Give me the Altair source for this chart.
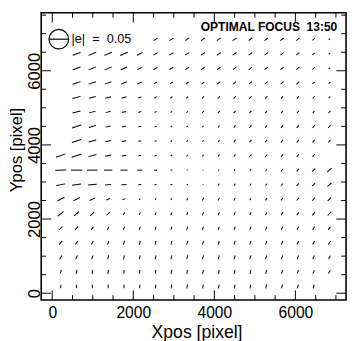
import altair as alt
import pandas as pd

# grid positions of the whisker centres (pixel coordinates on the detector)
COL_X = [210, 600, 990, 1380, 1770, 2160, 2550, 2940, 3330, 3720,
         4110, 4500, 4890, 5280, 5670, 6060, 6450, 6840]
ROW_Y = [6848, 6456, 6064, 5672, 5280, 4888, 4496, 4104, 3712, 3320,
         2928, 2536, 2144, 1752, 1360, 968, 576, 184]  # top row first

N = None
# ellipticity |e| in units of 1e-3, one list per row (top to bottom), one entry per column
E_ROWS = [
    [N, N, N, N, N, N, 12, 12, 12, 12, 12, 12, 11, 11, 11, 10, 8, 5],
    [N, 21, 21, 21, 21, 16, 12.5, 12, 12, 12, 12, 12, 11, 11, 10, 10, 8, 5],
    [N, 21, 20, 20, 17.5, 14, 11, 11, 11, 11, 11, 11, 11, 10, 10, 10, 8, 5],
    [N, 21, 20, 17.5, 16, 13, 10, 9, 9, 9, 10, 10, 10, 10, 10, 10, 8, 6],
    [N, 21, 17.5, 15, 13, 9, 7, 7, 7, 7.5, 8, 8, 8, 8, 8, 8, 7.5, 6],
    [N, 21, 17.5, 13, 11, 7.5, 5.5, 5.5, 5.5, 6, 7.5, 7.5, 7.5, 7.5, 7.5, 7.5, 7.5, 7.5],
    [N, 24, 18, 13, 11, 7.5, 5, 5, 5, 5, 6, 7.5, 7.5, 7.5, 9, 9, 9, 9],
    [N, 25, 20, 15, 11, 7.5, 5, 5, 5, 5, 6, 7.5, 7.5, 7.5, 9, 9, 9, 9],
    [26, 26, 21, 15.5, 11.5, 6.5, 5, 5, 5, 5, 6, 7.5, 7.5, 7.5, 9, 9, 9, N],
    [28, 29, 27, 21, 18, 12.5, 7.5, 5, 3, 2, 3, 5, 6, 6, 7.5, 9, 11, 15],
    [23, 23, 22, 16, 12.5, 7.5, 5, 5, 4, 2.5, 5, 6, 6, 6, 7.5, 9, 11, 14],
    [21, 19, 16, 10, 7, 4.5, 5, 5, 6, 7.5, 7.5, 7.5, 6, 7.5, 7.5, 9, 11, 12.5],
    [19, 17, 14, 11, 7.5, 6, 7.5, 7.5, 7.5, 9, 9, 9, 7.5, 7.5, 9, 9, 11, 12.5],
    [12.5, 12.5, 10, 9, 9, 9, 9, 9, 9, 9, 9, 9, 9, 9, 9, 9, 10, 10],
    [12.5, 11, 10, 10, 10, 10, 10, 10, 10, 10, 10, 10, 10, 10, 10, 10, 10, 11],
    [11, 11, 10, 10, 10, 10, 10, 10, 10, 10, 10, 10, 10, 10, 10, 10, 10, 10],
    [10, 10, 10, 10, 10, 10, 10, 10, 10, 10, 10, 10, 10, 10, 10, 10, 10, 10],
    [9, 9, 9, 9, 9, 9, 10, 10, 10, 10, 10, 10, 10, 10, 10, 10, 10, N],
]
# position angle of the whisker in degrees, counter-clockwise from +x
PA_ROWS = [
    [N, N, N, N, N, N, 33, 33, 35, 35, 35, 35, 38, 38, 38, 40, 40, 40],
    [N, 20, 22, 22, 24, 26, 30, 32, 33, 35, 35, 35, 38, 38, 40, 40, 40, 40],
    [N, 20, 22, 22, 24, 26, 30, 32, 35, 35, 38, 38, 40, 40, 40, 42, 42, 42],
    [N, 18, 18, 20, 22, 25, 30, 35, 38, 40, 42, 42, 42, 42, 42, 45, 45, 45],
    [N, 15, 15, 15, 18, 20, 35, 40, 42, 45, 45, 45, 45, 45, 45, 45, 45, 45],
    [N, 15, 15, 15, 15, 18, 30, 40, 45, 45, 50, 50, 50, 50, 50, 50, 50, 50],
    [N, 18, 16, 14, 12, 10, 20, 40, 45, 50, 55, 55, 50, 50, 50, 50, 50, 50],
    [N, 18, 15, 12, 10, 8, 15, 40, 45, 50, 55, 55, 50, 50, 50, 50, 50, 50],
    [20, 18, 15, 12, 10, 8, 20, 40, 45, 50, 55, 55, 50, 50, 50, 50, 50, N],
    [2, 0, 0, 0, 0, 0, 0, 0, 10, 40, 60, 70, 55, 50, 50, 48, 45, 42],
    [10, 8, 5, 5, 3, 3, 5, 10, 30, 50, 60, 60, 55, 50, 50, 48, 45, 42],
    [28, 28, 25, 25, 25, 30, 65, 65, 62, 65, 65, 68, 55, 55, 52, 50, 48, 45],
    [38, 40, 42, 45, 50, 55, 68, 70, 70, 70, 70, 70, 60, 58, 55, 52, 50, 48],
    [45, 50, 55, 65, 70, 75, 75, 75, 75, 75, 75, 72, 70, 70, 68, 65, 60, 55],
    [50, 55, 60, 70, 75, 80, 78, 78, 76, 75, 75, 73, 72, 72, 70, 65, 60, 55],
    [60, 65, 70, 75, 80, 80, 80, 78, 76, 75, 75, 73, 72, 72, 70, 68, 65, 60],
    [70, 75, 80, 80, 85, 85, 82, 80, 80, 78, 78, 76, 75, 75, 72, 70, 65, 60],
    [88, 90, 90, 90, 90, 88, 85, 85, 82, 82, 80, 80, 80, 78, 78, 75, 75, N],
]

LEGEND_E = 0.05
LEGEND_LABEL = "|e|\u00a0\u00a0=\u00a0\u00a00.05"
TITLE_TEXT = "OPTIMAL FOCUS\u00a0\u00a013:50"

X_MAJOR = [0, 2000, 4000, 6000]
X_MINOR = [500, 1000, 1500, 2500, 3000, 3500, 4500, 5000, 5500, 6500, 7000]
Y_MAJOR = [0, 2000, 4000, 6000]
Y_MINOR = [500, 1000, 1500, 2500, 3000, 3500, 4500, 5000, 5500, 6500, 7000, 7500]

W, H = 312, 294
XDOM = [-272, 7250]
YDOM = [-184, 7563]
PX_PER_E = 400  # |e| = 0.05 -> 20 px

recs = []
for r, y in enumerate(ROW_Y):
    for c, x in enumerate(COL_X):
        e = E_ROWS[r][c]
        if e is None:
            continue
        recs.append({"x": x, "y": y, "e": e / 1000.0, "pa": PA_ROWS[r][c]})
df = pd.DataFrame(recs)

xs = alt.Scale(domain=XDOM, nice=False, zero=False)
ys = alt.Scale(domain=YDOM, nice=False, zero=False)
FONT = "Liberation Sans"

AX_X = alt.Axis(
    values=X_MAJOR, format="d", ticks=False, tickSize=0, domain=False, grid=False,
    labelFontSize=16, labelFont=FONT, labelColor="black", labelPadding=5,
    labelFlush=False, labelOverlap=False,
    title="Xpos [pixel]", titleFont=FONT, titleFontSize=18,
    titleFontWeight="normal", titleColor="black", titleX=159, titleY=38,
    titleAlign="center", titleBaseline="alphabetic")
AX_Y = alt.Axis(
    values=Y_MAJOR, format="d", ticks=False, tickSize=0, domain=False, grid=False,
    labelFontSize=17, labelFont=FONT, labelColor="black", labelPadding=2,
    labelAngle=270, labelAlign="center", labelBaseline="alphabetic",
    labelFlush=False, labelOverlap=False,
    title="Ypos [pixel]", titleFont=FONT, titleFontSize=17,
    titleFontWeight="normal", titleColor="black", titleAngle=270,
    titleX=-33, titleY=140, titleAlign="center", titleBaseline="top")

sticks = alt.Chart(df).transform_calculate(
    L=f"datum.e * {PX_PER_E}",
    sz="datum.L * datum.L",
    ang="180 - datum.pa",
).mark_point(
    shape="M -1 0 L 1 0", filled=False, color="black", stroke="black",
    strokeWidth=1, opacity=1
).encode(
    x=alt.X("x:Q", scale=xs, axis=AX_X),
    y=alt.Y("y:Q", scale=ys, axis=AX_Y),
    angle=alt.Angle("ang:Q", scale=None),
    size=alt.Size("sz:Q", scale=None),
)


def xticks(vals, top, length):
    d = pd.DataFrame({"x": vals})
    y1, y2 = (0, length) if top else (H, H - length)
    return alt.Chart(d).mark_rule(color="black", strokeWidth=1).encode(
        x=alt.X("x:Q", scale=xs, axis=AX_X), y=alt.value(y1), y2=alt.value(y2))


def yticks(vals, right, length):
    d = pd.DataFrame({"y": vals})
    x1, x2 = (W, W - length) if right else (0, length)
    return alt.Chart(d).mark_rule(color="black", strokeWidth=1).encode(
        y=alt.Y("y:Q", scale=ys, axis=AX_Y), x=alt.value(x1), x2=alt.value(x2))


MAJ, MIN = 10, 5
ticks = [
    xticks(X_MAJOR, False, MAJ), xticks(X_MINOR, False, MIN),
    xticks(X_MAJOR, True, MAJ), xticks(X_MINOR, True, MIN),
    yticks(Y_MAJOR, False, MAJ), yticks(Y_MINOR, False, MIN),
    yticks(Y_MAJOR, True, MAJ), yticks(Y_MINOR, True, MIN),
]

leg = pd.DataFrame({"e": [LEGEND_E], "label": [LEGEND_LABEL]})
leg_base = alt.Chart(leg).transform_calculate(
    sz=f"pow(datum.e * {PX_PER_E}, 2)")
leg_circle = leg_base.mark_point(
    shape="circle", filled=False, color="black", strokeWidth=1.2, opacity=1
).encode(x=alt.value(18), y=alt.value(27), size=alt.Size("sz:Q", scale=None))
leg_line = leg_base.mark_point(
    shape="M -1 0 L 1 0", filled=False, color="black", strokeWidth=1.2, opacity=1
).encode(x=alt.value(18), y=alt.value(27), size=alt.Size("sz:Q", scale=None))
leg_text = alt.Chart(leg).mark_text(
    align="left", baseline="middle", font=FONT, fontSize=13, color="black"
).encode(x=alt.value(31), y=alt.value(27), text="label:N")

title = alt.Chart(pd.DataFrame({"t": [TITLE_TEXT]})).mark_text(
    align="right", baseline="middle", font=FONT, fontSize=12.3,
    fontWeight="bold", color="black"
).encode(x=alt.value(303), y=alt.value(15), text="t:N")

chart = alt.layer(sticks, *ticks, leg_circle, leg_line, leg_text, title).properties(
    width=W, height=H,
    autosize=alt.AutoSizeParams(type="none"),
    padding={"left": 34, "top": 1, "right": 2, "bottom": 38},
    background="white",
).configure_view(stroke="black", strokeWidth=1.6)

chart.save("out.html", embed_options={"renderer": "svg", "actions": False})
